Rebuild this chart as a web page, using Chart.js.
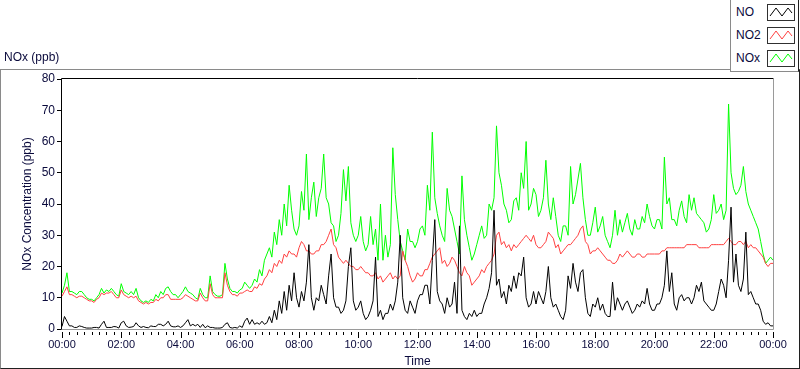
<!DOCTYPE html>
<html>
<head>
<meta charset="utf-8">
<script src="https://cdn.jsdelivr.net/npm/chart.js@4.4.1/dist/chart.umd.min.js"></script>
<style>
  html, body { margin: 0; padding: 0; background: #ffffff; }
  #wrap { position: relative; width: 800px; height: 369px; overflow: hidden; font-family: "Liberation Sans", Arial, sans-serif; }
  #frame { position: absolute; left: 0; top: 69px; width: 798px; height: 298px; border-top: 1px solid #8a8a8a; border-left: 1px solid #8a8a8a; border-right: 1px solid #202020; border-bottom: 1px solid #202020; }
  #title { position: absolute; left: 4px; top: 50px; font-size: 12px; color: #0a0a3c; }
  #legend { position: absolute; left: 730px; top: 0; width: 67px; height: 71px; background: #fff; border-left: 1px solid #8a8a8a; border-bottom: 1px solid #8a8a8a; border-right: 1px solid #202020; }
  .row { position: absolute; left: 5px; height: 17px; font-size: 12px; color: #0a0a3c; line-height: 17px; }
  .row svg { position: absolute; left: 31px; top: 0; }
  canvas { position: absolute; left: 0; top: 0; }
</style>
</head>
<body>
<div id="wrap">
  <div id="frame"></div>
  <canvas id="myChart" width="800" height="369"></canvas>
  <div id="title">NOx (ppb)</div>
  <div id="legend"></div>
</div>
<script>
'use strict'
// sampled every 5 minutes, 00:00 .. 24:00 (one row per hour)
var stepMinutes = 5;
var tickLabels = ['00:00', '02:00', '04:00', '06:00', '08:00', '10:00', '12:00', '14:00', '16:00', '18:00', '20:00', '22:00', '00:00'];
var seriesNames = ['NO', 'NO2', 'NOx'];
var seriesColors = ['#000000', '#ff4040', '#00ff00'];

var noValues = [
  0.8, 4, 2.5, 1, 1, 0.5, 0.5, 1, 0.8, 0.5, 0.3, 0.3,
  0.3, 0.5, 0.5, 0.3, 1.5, 2.5, 0.5, 0.5, 0.5, 0.8, 0.7, 0.3,
  2, 2.5, 1, 0.5, 0.6, 0.8, 2, 1, 0.5, 0.8, 0.5, 0.4,
  1, 0.8, 0.8, 1.5, 1.5, 1, 1.5, 2.5, 1, 0.7, 0.7, 1,
  0.5, 1, 2, 3, 1, 1.5, 1, 1.5, 0.5, 1.5, 0.4, 1,
  0.5, 0.5, 0.3, 0.3, 0.3, 0.5, 1.5, 2, 0.5, 0.3, 0.5, 0.3,
  1, 0.5, 2.5, 3.5, 1.5, 3, 1.5, 2, 1.5, 2.5, 1.5, 2,
  4, 2, 6, 3, 9, 5, 12, 6, 14, 9, 18, 10,
  7, 12, 9, 15, 27, 10, 6, 10, 9, 14, 11, 8,
  17, 24, 10, 7, 7, 5, 6, 9, 20, 26, 9, 6,
  7, 9, 5, 3, 4, 6, 9, 23, 4, 6, 3, 5,
  5, 8, 6, 9, 15, 30, 10, 6, 5, 9, 7, 5,
  9, 11, 11, 14, 14, 8, 22, 35, 12, 9, 8, 5,
  10, 7, 8, 15, 5, 33, 6, 4, 3, 5, 4, 6,
  4, 5, 5, 8, 10, 13, 18, 38, 14, 16, 10, 12,
  8, 14, 12, 17, 13, 18, 17, 23, 10, 7, 8, 12,
  8, 12, 10, 8, 12, 20, 10, 7, 8, 6, 4, 3,
  6, 17, 13, 21, 15, 12, 18, 19, 10, 5, 4, 8,
  7, 10, 6, 8, 5, 4, 4, 15, 6, 10, 8, 6,
  8, 9, 7, 5, 6, 8, 7, 9, 8, 13, 8, 6,
  6, 8, 8, 10, 14, 25, 12, 18, 8, 6, 10, 11,
  9, 10, 10, 8, 10, 14, 12, 15, 9, 8, 7, 6,
  6, 8, 12, 16, 14, 10, 22, 39, 15, 24, 14, 12,
  16, 31, 11, 12, 10, 8, 8, 6, 2.5, 1.5, 2, 1,
  1
];

var no2Values = [
  10.5, 12, 13.5, 11, 11, 10.5, 10, 10.5, 10.5, 10, 9.5, 9,
  9, 8.5, 9.5, 10, 11.5, 11, 11.5, 11.5, 12, 11, 10, 10,
  12.5, 11, 10.5, 10, 10.5, 10, 10.5, 9, 8.5, 8, 8.5, 8,
  8.5, 8.5, 9.5, 9, 10, 10, 11, 11, 9.5, 9.5, 9.5, 9.5,
  9.5, 10, 11, 10.5, 10, 9.5, 9, 9, 11.5, 10, 9, 9,
  14.5, 11, 10, 10, 10, 10, 18, 14, 12, 11, 11, 10.5,
  11.5, 11.5, 12, 12.5, 12, 12, 13.5, 13, 14.5, 14, 16, 17,
  19, 18, 21, 20, 22, 21, 24, 23, 25, 24, 24, 23,
  26, 28, 27, 25, 25, 24, 24, 25, 25, 27, 27, 28,
  30, 32, 27, 26, 23, 22, 21, 22, 21, 20, 20, 19,
  19, 20, 19, 18, 18, 17, 17, 18, 16, 17, 15, 16,
  17, 18, 16, 17, 16, 17, 25, 22, 20, 17, 15, 16,
  18, 17, 17, 19, 19, 21, 23, 24, 25, 26, 21, 22,
  20, 21, 23, 22, 20, 18, 17, 20, 18, 17, 14, 15,
  16, 17, 19, 18, 20, 21, 22, 24, 30, 31, 27, 28,
  26, 27, 25, 27, 26, 27, 28, 29, 30, 29, 28, 30,
  27, 26, 26, 27, 28, 31, 30, 29, 26, 27, 24, 25,
  26, 27, 27, 28, 29, 30, 32, 33, 28, 27, 24, 25,
  25, 26, 25, 24, 23, 22, 22, 21, 21, 22, 24, 23,
  24, 25, 24, 23, 23, 24, 24, 23, 23, 24, 24, 24,
  24, 24, 24, 25, 25, 26, 26, 26, 26, 26, 26, 26,
  26, 27, 27, 27, 27, 27, 26, 26, 26, 26, 26, 27,
  27, 27, 27, 27, 27, 28, 29, 28, 27, 27, 28, 28,
  27, 28, 26, 27, 26, 26, 25, 24, 23, 21, 20, 21,
  21
];

var noxValues = [
  11.5, 14, 18, 12, 12, 11.5, 11, 12, 12, 11, 10, 9.5,
  9.5, 9, 10, 11, 13, 11.5, 12.5, 12, 13, 12, 11, 10.5,
  14.5, 12, 11.5, 11, 12, 11, 13, 10, 9, 8.5, 9, 8.5,
  9.5, 9, 11, 10, 12, 11, 13, 13.5, 12, 11, 11, 10,
  11, 12, 13.5, 12, 11.5, 11, 10, 9.5, 13, 11, 10, 10,
  17, 12, 11, 10.5, 10.5, 11, 21, 16, 13, 12, 12, 11.5,
  12.5, 13, 15, 14, 13, 14, 16, 15, 19, 17, 22, 24,
  26, 23, 31, 27, 35, 30, 40, 33, 46, 38, 32, 30,
  33, 44, 38, 56, 35, 42, 47, 36, 42, 45, 56, 42,
  40, 34, 33, 28, 30, 37, 51, 41, 52, 34, 30, 28,
  30, 36, 28, 25, 27, 36, 27, 32, 22, 40, 22, 30,
  23, 27, 58, 43, 35, 28, 25, 22, 32, 28, 28, 26,
  28, 32, 33, 30, 46, 38, 63, 42, 37, 33, 30, 28,
  45, 38, 36, 32, 28, 24, 49, 35, 30, 26, 22, 24,
  27, 30, 33, 29, 30, 40, 38, 42, 65, 50, 46, 40,
  38, 34, 35, 41, 42, 38, 50, 45, 60, 38, 40, 45,
  43, 36, 38, 42, 54, 40, 35, 42, 36, 30, 28, 33,
  33, 30, 52, 40, 43, 48, 53, 42, 35, 30, 30, 34,
  39, 31, 33, 36, 30, 28, 26, 30, 38, 30, 35, 31,
  34, 37, 32, 30, 35, 32, 32, 36, 34, 40, 36, 33,
  32, 35, 35, 32, 55, 40, 42, 35, 35, 33, 38, 41,
  36, 34, 43, 38, 42, 37, 36, 35, 34, 31, 32, 35,
  43, 37, 38, 40, 35, 38, 72, 50, 45, 43, 44, 46,
  52, 44, 40, 38, 36, 34, 32, 28, 24, 21, 22, 23,
  22
];

function toPoints(values) {
  var pts = [];
  for (var i = 0; i < values.length; i++) {
    pts.push({ x: i * stepMinutes, y: values[i] });
  }
  return pts;
}

// legend
var legendBox = document.getElementById('legend');
for (var i = 0; i < seriesNames.length; i++) {
  var row = document.createElement('div');
  row.className = 'row';
  row.style.top = (4 + i * 23) + 'px';
  row.textContent = seriesNames[i];
  var svg = '<svg width="28" height="17" xmlns="http://www.w3.org/2000/svg">' +
    '<rect x="0.5" y="0.5" width="27" height="16" fill="#fff" stroke="#303030"/>' +
    '<polyline points="3,12 9,4 15,12 21,4 25,9" fill="none" stroke="' + seriesColors[i] + '" stroke-width="1"/></svg>';
  row.insertAdjacentHTML('beforeend', svg);
  legendBox.appendChild(row);
}

var plotDecor = {
  id: 'plotDecor',
  afterDraw: function (chart) {
    var ctx = chart.ctx;
    var a = chart.chartArea;
    var xs = chart.scales.x;
    ctx.save();
    ctx.lineWidth = 1;
    // plot border
    ctx.strokeStyle = '#000';
    ctx.beginPath();
    ctx.moveTo(a.left - 0.5, a.bottom);
    ctx.lineTo(a.left - 0.5, a.top - 0.5);
    ctx.lineTo(a.right + 0.5, a.top - 0.5);
    ctx.stroke();
    ctx.strokeStyle = '#9a9a9a';
    ctx.beginPath();
    ctx.moveTo(a.right + 0.5, a.top - 0.5);
    ctx.lineTo(a.right + 0.5, a.bottom + 0.5);
    ctx.lineTo(a.left - 0.5, a.bottom + 0.5);
    ctx.stroke();
    // x ticks: major every 2 h, minor every 15 min
    ctx.strokeStyle = '#000';
    for (var m = 0; m <= 1440; m += 15) {
      var px = Math.round(xs.getPixelForValue(m)) + 0.5;
      var len = (m % 120 === 0) ? 6 : 3;
      ctx.beginPath();
      ctx.moveTo(px, a.bottom + 3);
      ctx.lineTo(px, a.bottom + 3 + len);
      ctx.stroke();
    }
    ctx.restore();
  }
};

var datasets = [];
var allValues = [noValues, no2Values, noxValues];
for (var d = 0; d < seriesNames.length; d++) {
  datasets.push({
    label: seriesNames[d],
    data: toPoints(allValues[d]),
    borderColor: seriesColors[d],
    borderWidth: 1,
    pointRadius: 0,
    tension: 0,
    fill: false
  });
}

var ctx = document.getElementById('myChart').getContext('2d');
var chart = new Chart(ctx, {
  type: 'line',
  data: { datasets: datasets },
  plugins: [plotDecor],
  options: {
    responsive: false,
    animation: false,
    layout: { padding: { left: 20, top: 79, right: 27, bottom: 0 } },
    plugins: { legend: { display: false }, tooltip: { enabled: false } },
    scales: {
      x: {
        type: 'linear',
        min: 0,
        max: 1440,
        afterFit: function (s) { s.height = 40; },
        border: { display: false },
        grid: { display: false, drawTicks: false },
        ticks: {
          stepSize: 120,
          autoSkip: false,
          maxRotation: 0,
          padding: 9,
          color: '#0a0a3c',
          font: { family: 'Liberation Sans', size: 11 },
          callback: function (v) { return tickLabels[v / 120]; }
        },
        title: {
          display: true,
          text: 'Time',
          color: '#0a0a3c',
          font: { family: 'Liberation Sans', size: 12 },
          padding: { top: 0, bottom: 0 }
        }
      },
      y: {
        min: 0,
        max: 80,
        afterFit: function (s) { s.width = 42; },
        border: { display: false },
        grid: { drawOnChartArea: false, drawTicks: true, tickLength: 5, color: '#000' },
        ticks: {
          stepSize: 10,
          padding: 2,
          color: '#0a0a3c',
          font: { family: 'Liberation Sans', size: 12 }
        },
        title: {
          display: true,
          text: 'NOx Concentration (ppb)',
          color: '#0a0a3c',
          font: { family: 'Liberation Sans', size: 12 },
          padding: { top: 0, bottom: 0 }
        }
      }
    }
  }
});
</script>
</body>
</html>
